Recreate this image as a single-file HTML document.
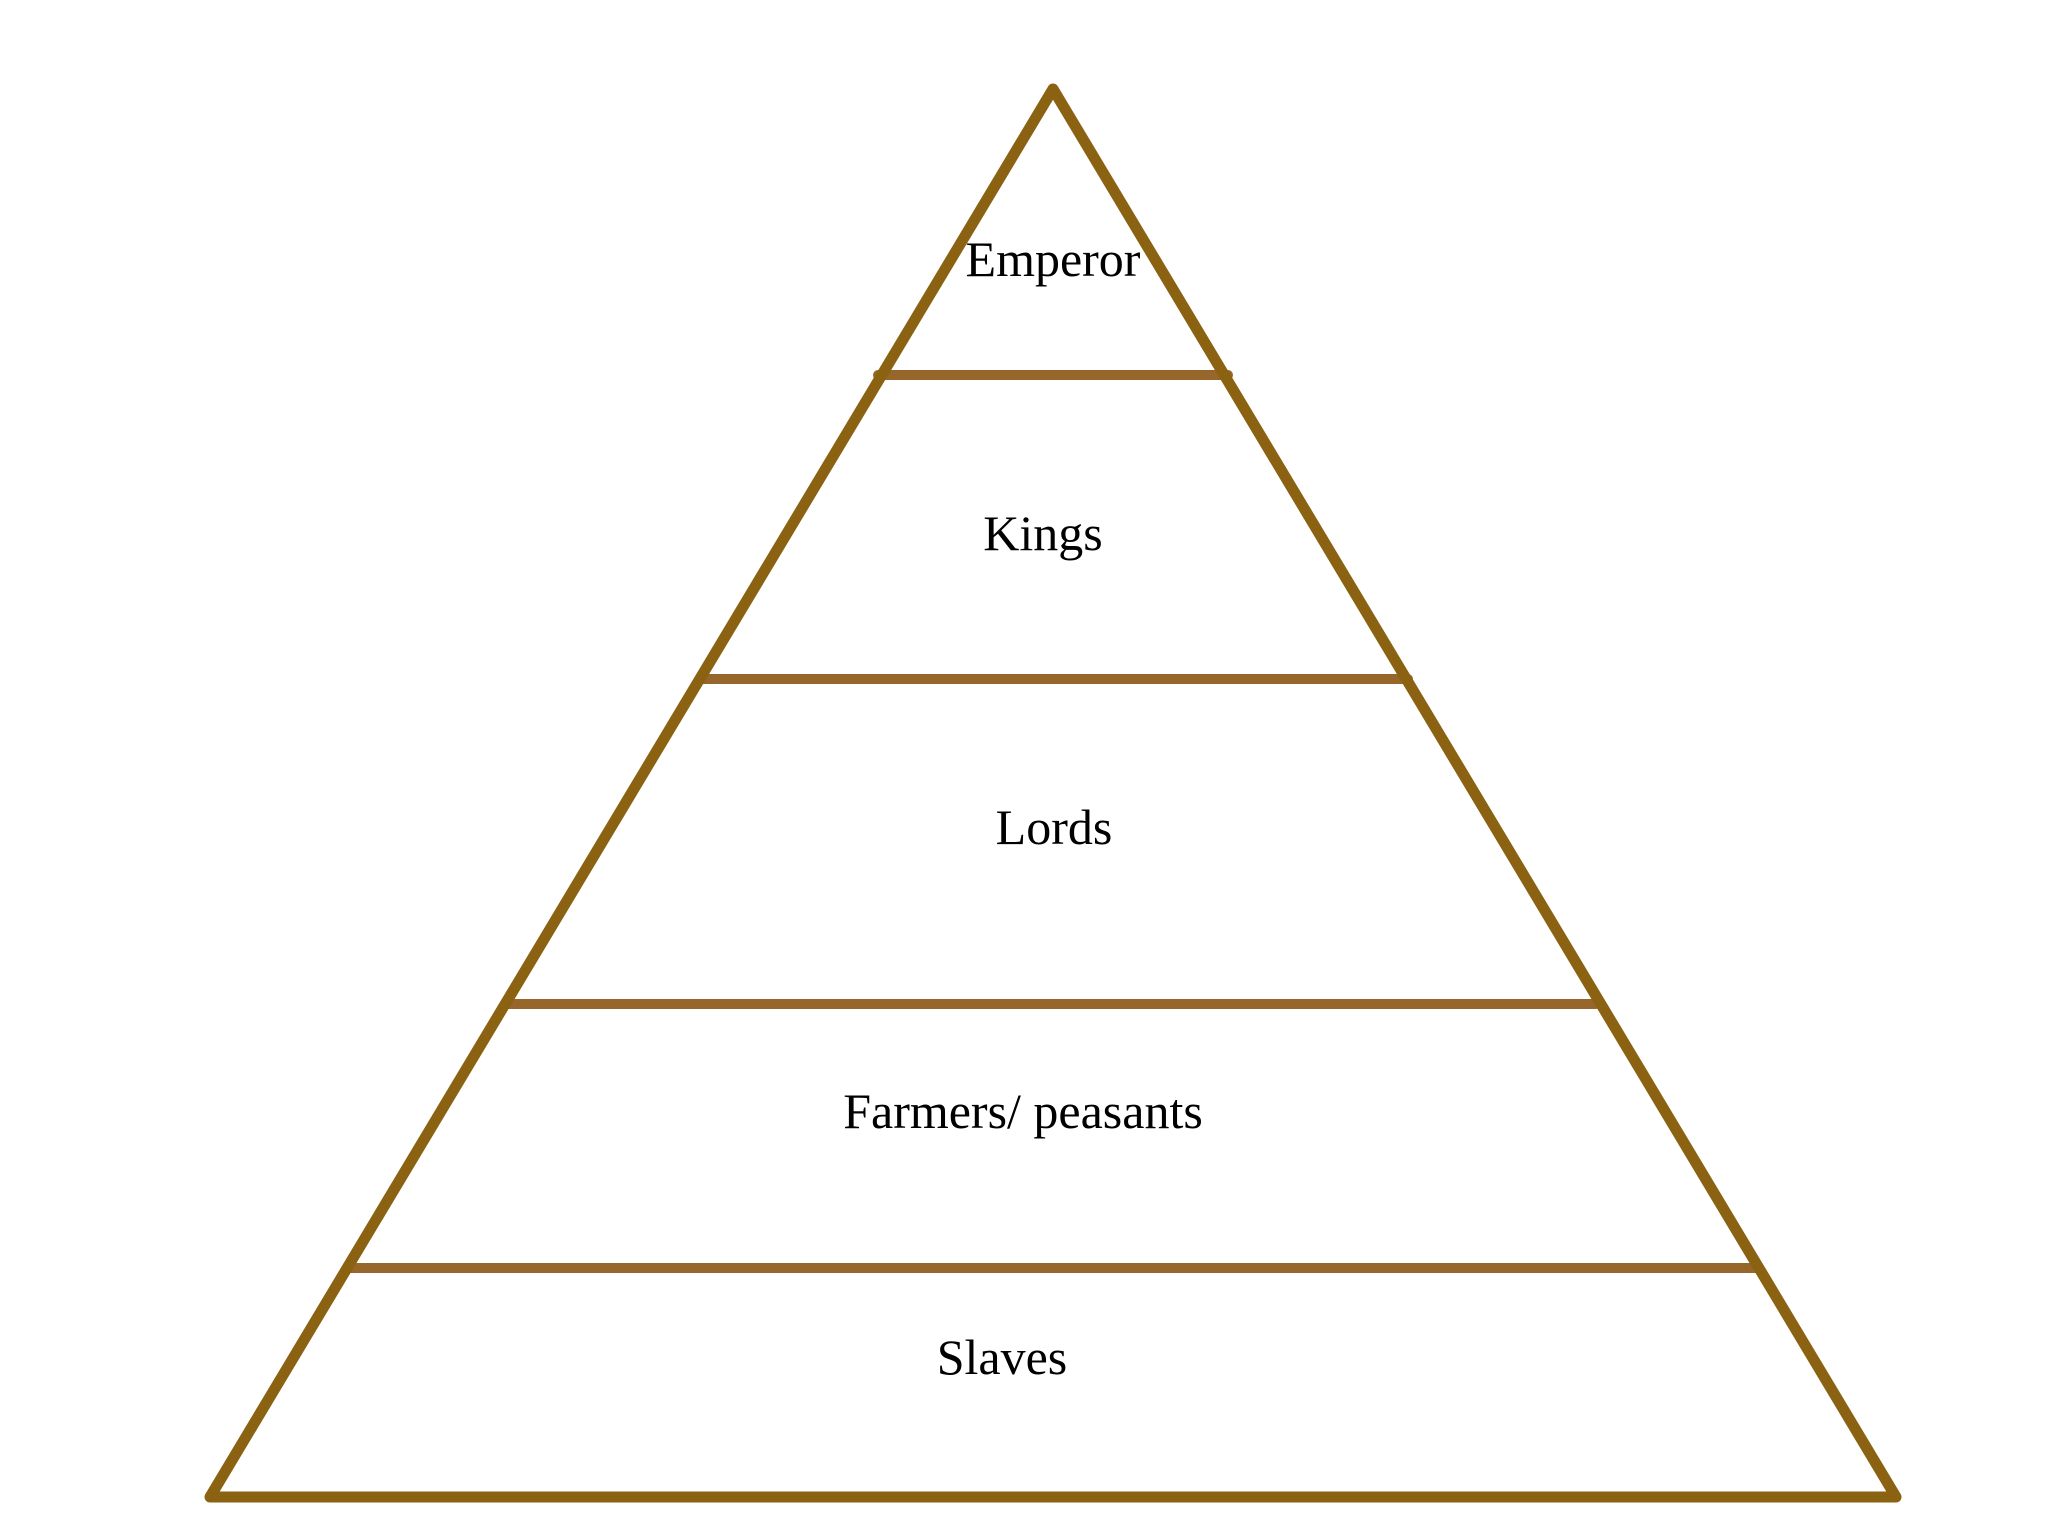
<!DOCTYPE html>
<html><head><meta charset="utf-8"><style>
html,body{margin:0;padding:0;background:#fff;}
svg{display:block;}
text{font-family:"Liberation Serif",serif;font-size:50px;fill:#000;text-anchor:middle;}
</style></head><body>
<svg width="2048" height="1536" viewBox="0 0 2048 1536" xmlns="http://www.w3.org/2000/svg">
<g stroke="#96662a" stroke-width="10" stroke-linecap="round">
<line x1="878" y1="375" x2="1228" y2="375"/>
<line x1="703" y1="679" x2="1408" y2="679"/>
<line x1="509" y1="1004" x2="1596" y2="1004"/>
<line x1="350" y1="1268" x2="1757" y2="1268"/>
</g>
<polygon points="1053,89 1896,1497 210,1497" fill="none" stroke="#8a6212" stroke-width="11" stroke-linejoin="round"/>
<text x="1053" y="276">Emperor</text>
<text x="1043" y="550">Kings</text>
<text x="1054" y="844">Lords</text>
<text x="1023" y="1128">Farmers/ peasants</text>
<text x="1002" y="1374">Slaves</text>
</svg>
</body></html>
